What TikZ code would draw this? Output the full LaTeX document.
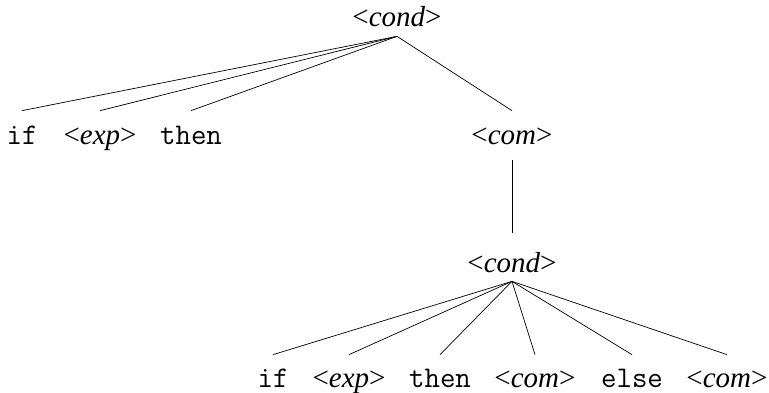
\documentclass[tikz,border=0pt]{standalone}
\usepackage{fontspec}
\setmainfont{Liberation Serif}
\usepackage{tikz}

\newcommand{\ntm}[1]{\fontsize{29}{34}\selectfont\textless\textit{#1}\textgreater}
\newcommand{\kwd}[1]{\fontsize{30}{34}\selectfont\texttt{#1}}

\begin{document}
\begin{tikzpicture}[x=1pt, y=-1pt, line width=0.7pt,
    every node/.style={inner sep=0pt, text height=22pt, text depth=6pt, anchor=base}]
                \useasboundingbox (0,0) rectangle (769,393);
                \node (cond) at (397,27) {\ntm{cond}};
                \node (if) at (22,145) {\kwd{if}};
                \node (exp) at (100,145) {\ntm{exp}};
                \node (then) at (191,145) {\kwd{then}};
                \node (com) at (512,145) {\ntm{com}};
                \foreach \c in {if, exp, then, com}
                    \draw ([yshift=-3pt]cond.south) -- ([yshift=12pt]\c.north);
                \node (cond2) at (512,272) {\ntm{cond}};
                \draw ([yshift=-9pt]com.south) -- ([yshift=17pt]cond2.north);
                \node (if2) at (273,387) {\kwd{if}};
                \node (exp2) at (349,387) {\ntm{exp}};
                \node (then2) at (440,387) {\kwd{then}};
                \node (com2) at (535,387) {\ntm{com}};
                \node (else2) at (632,387) {\kwd{else}};
                \node (com3) at (727,387) {\ntm{com}};
                \foreach \c in {if2, exp2, then2, com2, else2, com3}
                    \draw ([yshift=-3pt]cond2.south) -- ([yshift=10pt]\c.north);
            \end{tikzpicture}
\end{document}
